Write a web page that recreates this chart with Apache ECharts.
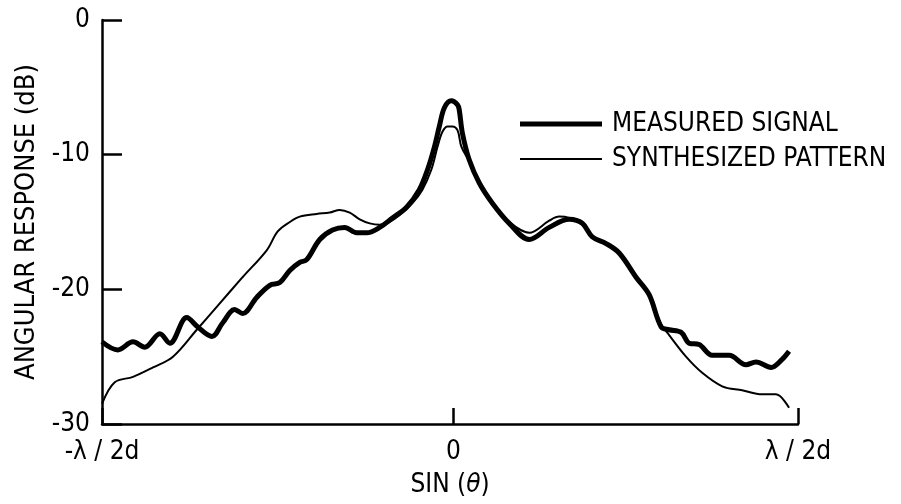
<!DOCTYPE html>
<html>
<head>
<meta charset="utf-8">
<script src="https://cdn.jsdelivr.net/npm/echarts@6/dist/echarts.min.js"></script>
<style>html,body{margin:0;padding:0;background:#fff;}#c{width:901px;height:504px;}</style>
</head>
<body>
<div id="c"></div>
<script>
// x in units of lambda/2d (sin theta), y in dB
const measuredX = [-1.020,-0.974,-0.930,-0.896,-0.852,-0.823,-0.774,-0.742,-0.701,-0.670,-0.635,-0.612,-0.571,-0.533,-0.504,-0.475,-0.446,-0.426,-0.388,-0.351,-0.316,-0.281,-0.252,-0.214,-0.177,-0.136,-0.099,-0.075,-0.055,-0.041,-0.026,-0.006,0.012,0.017,0.026,0.046,0.075,0.113,0.162,0.220,0.278,0.336,0.374,0.403,0.443,0.481,0.530,0.568,0.603,0.626,0.661,0.684,0.713,0.751,0.800,0.849,0.878,0.922,0.954,0.974];
const measuredY = [-23.9,-24.5,-23.9,-24.3,-23.3,-24.0,-22.1,-22.8,-23.5,-22.5,-21.5,-21.8,-20.6,-19.7,-19.5,-18.6,-18.0,-17.8,-16.3,-15.6,-15.4,-15.8,-15.8,-15.4,-14.7,-13.9,-12.6,-11.1,-9.4,-7.9,-6.5,-6.0,-6.3,-6.7,-8.4,-10.4,-12.1,-13.6,-15.1,-16.3,-15.4,-14.8,-15.1,-16.1,-16.6,-17.3,-19.1,-20.4,-22.8,-23.0,-23.2,-24.0,-24.1,-24.9,-24.9,-25.6,-25.4,-25.8,-25.2,-24.6];

const synthX = [-1.020,-0.983,-0.930,-0.872,-0.814,-0.745,-0.687,-0.612,-0.542,-0.510,-0.475,-0.446,-0.397,-0.359,-0.330,-0.301,-0.272,-0.243,-0.214,-0.186,-0.157,-0.119,-0.090,-0.064,-0.046,-0.032,-0.017,-0.003,0.012,0.023,0.046,0.075,0.113,0.162,0.220,0.278,0.307,0.336,0.374,0.403,0.443,0.481,0.530,0.568,0.603,0.626,0.675,0.722,0.780,0.838,0.896,0.936,0.974];
const synthY = [-28.5,-26.9,-26.5,-25.8,-25.0,-23.0,-21.3,-19.1,-17.1,-15.7,-15.0,-14.6,-14.4,-14.3,-14.1,-14.3,-14.8,-15.1,-15.2,-15.0,-14.5,-13.6,-12.6,-11.1,-9.4,-8.3,-7.9,-7.9,-8.2,-9.4,-10.5,-12.1,-13.6,-15.0,-15.8,-14.9,-14.6,-14.7,-15.2,-16.1,-16.6,-17.3,-19.1,-20.4,-22.6,-23.4,-25.0,-26.2,-27.2,-27.5,-27.8,-27.8,-28.8];

const xTickValues = [-1.02, 0, 1];
const xTickLabels = ['-λ / 2d', '0', 'λ / 2d'];
const seriesNames = ['MEASURED SIGNAL', 'SYNTHESIZED PATTERN'];

const FONT = '"Liberation Sans Narrow","Arial Narrow","DejaVu Sans Condensed",sans-serif';
const pair = (xs, ys) => xs.map((x, i) => [x, ys[i]]);

const chart = echarts.init(document.getElementById('c'));
chart.setOption({
  animation: false,
  backgroundColor: '#fff',
  textStyle: { fontFamily: FONT, color: '#000' },
  grid: { left: 102, right: 103, top: 20, bottom: 80 },
  legend: [
    { data: [seriesNames[0]], left: 515, top: 106, icon: 'rect', itemWidth: 82, itemHeight: 5,
      textStyle: { fontFamily: FONT, fontSize: 26, color: '#000', padding: [0,0,0,5] } },
    { data: [seriesNames[1]], left: 515, top: 141, icon: 'rect', itemWidth: 82, itemHeight: 2,
      textStyle: { fontFamily: FONT, fontSize: 26, color: '#000', padding: [0,0,0,5] } }
  ],
  xAxis: {
    type: 'value', min: -1.02, max: 1,
    name: 'SIN ({i|θ})', nameLocation: 'middle', nameGap: 48,
    nameTextStyle: { fontFamily: FONT, fontSize: 26, color: '#000',
      rich: { i: { fontFamily: FONT, fontSize: 26, fontStyle: 'italic', color: '#000' } } },
    axisLine: { onZero: false, lineStyle: { color: '#000', width: 2.5 } },
    axisTick: { show: true, inside: true, length: 16, customValues: xTickValues, lineStyle: { color: '#000', width: 2.5 } },
    axisLabel: { customValues: xTickValues, margin: 15, fontFamily: FONT, fontSize: 26, color: '#000',
      formatter: v => { const i = xTickValues.findIndex(t => Math.abs(t - v) < 1e-6); return i >= 0 ? xTickLabels[i] : ''; } },
    splitLine: { show: false }
  },
  yAxis: {
    type: 'value', min: -30, max: 0, interval: 10,
    name: 'ANGULAR RESPONSE (dB)', nameLocation: 'middle', nameGap: 62, nameRotate: 90,
    nameTextStyle: { fontFamily: FONT, fontSize: 27, color: '#000' },
    axisLine: { show: true, onZero: false, lineStyle: { color: '#000', width: 2.5 } },
    axisTick: { show: true, inside: true, length: 20, lineStyle: { color: '#000', width: 2.5 } },
    axisLabel: { margin: 12, fontFamily: FONT, fontSize: 26, color: '#000' },
    splitLine: { show: false }
  },
  series: [
    { name: seriesNames[0], type: 'line', data: pair(measuredX, measuredY), smooth: 0.35, symbol: 'none',
      lineStyle: { color: '#000', width: 5 }, itemStyle: { color: '#000' }, z: 3 },
    { name: seriesNames[1], type: 'line', data: pair(synthX, synthY), smooth: 0.35, symbol: 'none',
      lineStyle: { color: '#000', width: 2 }, itemStyle: { color: '#000' }, z: 4 }
  ]
});
</script>
</body>
</html>
